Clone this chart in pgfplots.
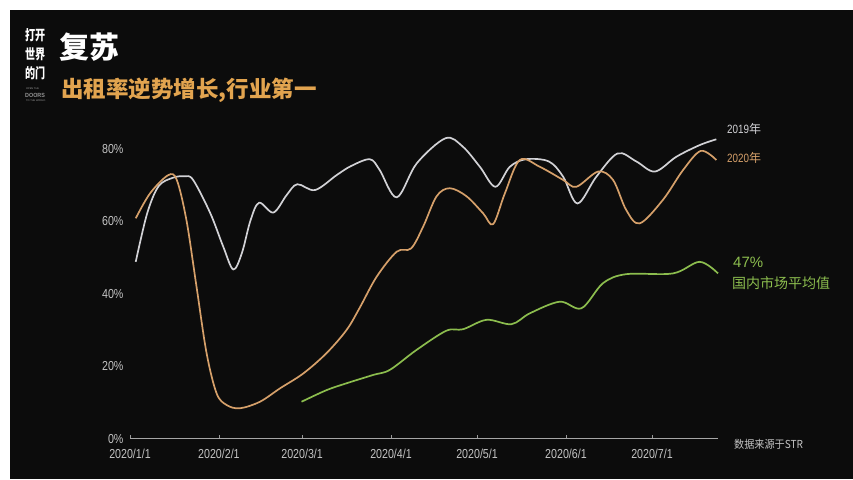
\documentclass[border=0pt]{standalone}
\usepackage{pgfplots}
\pgfplotsset{compat=1.18}
\usepackage{fontspec}
\setmainfont{Liberation Sans}
\newfontfamily\cjk{Noto Sans CJK SC}
\newfontfamily\cond[FakeStretch=0.82]{Liberation Sans}
\definecolor{bg}{HTML}{0C0C0C}
\definecolor{c19}{HTML}{D2D2D6}
\definecolor{c20}{HTML}{D6A06A}
\definecolor{cgr}{HTML}{8CBD4E}
\definecolor{tgold}{HTML}{E2A44F}
\definecolor{tickc}{HTML}{C4C4C4}
\pgfplotstableread{
day val
2 48.6
6 62
10 69.5
15 71.8
19 72.2
22 71.2
28 62
32.5 52.8
36 46.5
39 51
42 60
45 64.9
50 62.2
54.6 67
58.3 70
64.5 68.4
72 72.5
77 75
83.6 76.9
87 74
93 66.4
100 75.8
110 82.7
116 80.4
122 74.8
127.4 69.3
132.4 74.8
138 76.9
146 76.3
151 72.1
156 64.7
162.6 72.1
170 78.5
176.5 76.3
183 73.5
190.5 77.6
198.6 80.8
204.4 82.4
}\yrA
\pgfplotstableread{
day val
2 60.6
7 67.5
13.3 72.5
16.3 71.2
19.7 60
23.2 41.7
26.7 23.4
30.2 12.3
33.7 9.1
38.3 8.2
45.3 10
52.3 13.7
60.4 17.8
68.5 23.4
75.5 29.8
80 35.8
86 44.5
93 51.4
98 52.3
102.2 58.3
106.9 66.7
111.5 68.9
117.3 66.7
123.1 62
126.6 59
130.7 67.5
135.9 76.7
142.9 74.8
151 71.2
155.6 69.3
163.2 73.5
168.4 71.2
173 62.9
177.7 59.2
185.8 65.7
192.8 73.9
199 79.2
204.4 76.7
}\yrB
\pgfplotstableread{
day val
59.8 10
68.5 13.2
75.5 15.1
84.8 17.4
90.6 18.8
99.9 24.3
110.3 29.6
116.1 30
124.3 32.6
133 31.4
139.4 34.4
149.8 37.6
157.4 35.8
164.9 42.7
173 45.2
189.3 45.4
198.6 48.6
205 45.4
}\mkt
\begin{document}
\begin{tikzpicture}[x=1pt,y=1pt]
\fill[white] (0,0) rectangle (853,479);
\fill[bg] (10,0) rectangle (853,469);
\begin{axis}[at={(130pt,41pt)}, anchor=south west, scale only axis,
  width=588pt, height=308.125pt,
  xmin=0, xmax=205, ymin=0, ymax=85,
  axis lines=left, axis line style={-},
  y axis line style={draw=none},
  x axis line style={draw=gray!70, line width=0.8pt},
  ytick={0,20,40,60,80}, yticklabels={0\%,20\%,40\%,60\%,80\%},
  ytick style={draw=none},
  xtick={0,31,60,91,121,152,182},
  xticklabels={2020/1/1,2020/2/1,2020/3/1,2020/4/1,2020/5/1,2020/6/1,2020/7/1},
  xtick style={draw=gray!80, line width=0.6pt},
  tick align=inside, major tick length=3pt,
  ticklabel style={font=\cond\fontsize{13}{13}\selectfont, text=tickc},
  yticklabel style={xshift=-3pt, yshift=-1pt},
  xticklabel style={yshift=-8pt},
  clip=false]
\addplot[c19, line width=1.7pt, smooth, tension=0.55] table[x=day,y=val]{\yrA};
\addplot[c20, line width=1.7pt, smooth, tension=0.55] table[x=day,y=val]{\yrB};
\addplot[cgr, line width=1.7pt, smooth, tension=0.55] table[x=day,y=val]{\mkt};
\end{axis}
% annotations
\node[anchor=west, text=c19, inner sep=0, font=\cond\fontsize{12}{12}\selectfont] at (727,350) {2019\cjk 年};
\node[anchor=west, text=c20, inner sep=0, font=\cond\fontsize{12}{12}\selectfont] at (727,321) {2020\cjk 年};
\node[anchor=west, text=cgr, inner sep=0, font=\fontsize{15}{15}\selectfont] at (733,217) {47\%};
\node[anchor=west, text=cgr, inner sep=0, font=\cjk\fontsize{14}{14}\selectfont] at (732,196) {国内市场平均值};
\node[anchor=west, text=tickc, inner sep=0, font=\cjk\fontsize{11}{11}\selectfont, xscale=0.92] at (734,35) {数据来源于STR};
% title
\node[anchor=west, text=white, inner sep=0, font=\cjk\bfseries\fontsize{30}{30}\selectfont] at (59,432) {复苏};
\node[anchor=west, text=tgold, inner sep=0, font=\cjk\bfseries\fontsize{22.5}{22.5}\selectfont] at (61,389) {出租率逆势增长,行业第一};
% logo
\node[anchor=west, text=white, inner sep=0, font=\cjk\bfseries\fontsize{14}{14}\selectfont, xscale=0.72] at (25,444) {打开};
\node[anchor=west, text=white, inner sep=0, font=\cjk\bfseries\fontsize{14}{14}\selectfont, xscale=0.72] at (25,425) {世界};
\node[anchor=west, text=white, inner sep=0, font=\cjk\bfseries\fontsize{14}{14}\selectfont, xscale=0.72] at (25,406) {的门};
\node[anchor=west, text=gray!80, inner sep=0, font=\fontsize{2.5}{2.5}\selectfont] at (26,390) {OPEN THE};
\node[anchor=west, text=gray!85, inner sep=0, font=\bfseries\fontsize{6}{6}\selectfont, xscale=0.9] at (25,384) {DOORS};
\node[anchor=west, text=gray!80, inner sep=0, font=\fontsize{2.5}{2.5}\selectfont] at (26,378) {TO THE WORLD};
\pgfresetboundingbox
\useasboundingbox (0,0) rectangle (853,479);
\end{tikzpicture}
\end{document}
